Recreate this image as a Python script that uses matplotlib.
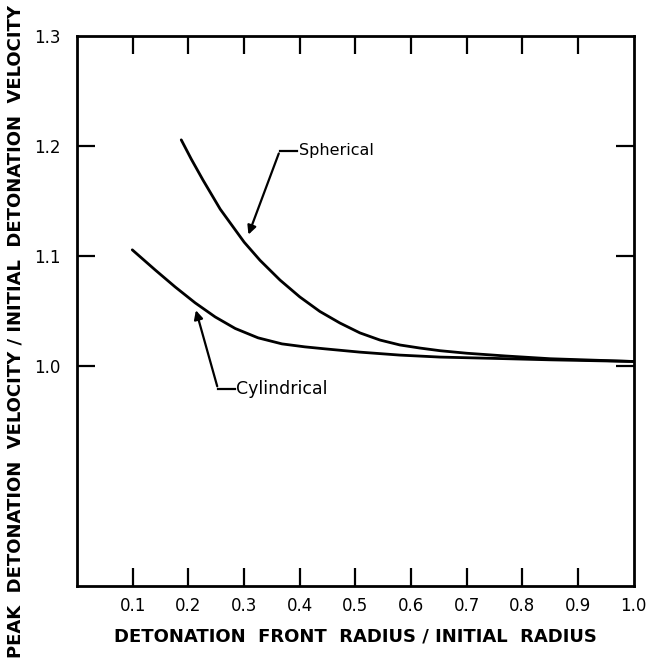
import matplotlib.pyplot as plt

# values
sph_x = [0.187, 0.205, 0.226, 0.257, 0.300, 0.3285, 0.3645, 0.400, 0.436, 0.472,
         0.508, 0.544, 0.580, 0.616, 0.652, 0.70, 0.77, 0.85, 1.0]
sph_y = [1.2055, 1.188, 1.169, 1.1425, 1.1125, 1.096, 1.078, 1.0627, 1.0495, 1.039,
         1.030, 1.0235, 1.019, 1.0162, 1.0138, 1.0115, 1.009, 1.0065, 1.004]

cyl_x = [0.099, 0.140, 0.176, 0.212, 0.248, 0.284, 0.325, 0.368, 0.409, 0.445,
         0.508, 0.580, 0.652, 0.75, 0.85, 1.0]
cyl_y = [1.1055, 1.0873, 1.0718, 1.0573, 1.0445, 1.034, 1.0255, 1.020, 1.0173, 1.0155,
         1.0125, 1.0098, 1.008, 1.0068, 1.0055, 1.004]

x_ticks = [0.1, 0.2, 0.3, 0.4, 0.5, 0.6, 0.7, 0.8, 0.9, 1.0]
x_labels = ["0.1", "0.2", "0.3", "0.4", "0.5", "0.6", "0.7", "0.8", "0.9", "1.0"]
y_ticks = [1.0, 1.1, 1.2, 1.3]
y_labels = ["1.0", "1.1", "1.2", "1.3"]


def main():
    fig = plt.figure(figsize=(6.54, 6.65), dpi=100)
    ax = fig.add_axes([0.118, 0.119, 0.851, 0.827])

    ax.plot(sph_x, sph_y, color="black", lw=2.0, solid_capstyle="round", solid_joinstyle="round")
    ax.plot(cyl_x, cyl_y, color="black", lw=2.0, solid_capstyle="round", solid_joinstyle="round")

    ax.set_xlim(0, 1.0)
    ax.set_ylim(0.8, 1.3)

    for s in ax.spines.values():
        s.set_linewidth(2.0)

    ax.set_xticks(x_ticks)
    ax.set_xticklabels(x_labels, fontsize=12)
    ax.set_yticks(y_ticks)
    ax.set_yticklabels(y_labels, fontsize=12)
    ax.tick_params(direction="in", length=13, width=1.6, top=True, right=True, pad=12)
    ax.tick_params(axis="x", pad=8)

    # hide the ticks that sit on the frame corners
    ax.xaxis.get_major_ticks()[-1].tick1line.set_visible(False)
    ax.xaxis.get_major_ticks()[-1].tick2line.set_visible(False)
    ax.yaxis.get_major_ticks()[-1].tick1line.set_visible(False)
    ax.yaxis.get_major_ticks()[-1].tick2line.set_visible(False)

    # leader lines and labels
    ax.annotate("", xy=(0.306, 1.117), xytext=(0.364, 1.1955),
                arrowprops=dict(arrowstyle="-|>", color="black", lw=1.6, mutation_scale=13))
    ax.plot([0.364, 0.395], [1.1955, 1.1955], color="black", lw=1.6)
    ax.text(0.398, 1.1955, "Spherical", fontsize=11.5, va="center", ha="left")

    ax.annotate("", xy=(0.212, 1.053), xytext=(0.253, 0.979),
                arrowprops=dict(arrowstyle="-|>", color="black", lw=1.6, mutation_scale=13))
    ax.plot([0.253, 0.283], [0.979, 0.979], color="black", lw=1.6)
    ax.text(0.286, 0.979, "Cylindrical", fontsize=12.5, va="center", ha="left")

    ax.set_xlabel("DETONATION  FRONT  RADIUS / INITIAL  RADIUS", fontsize=13, fontweight="bold", labelpad=9)
    fig.text(0.024, 0.502, "PEAK  DETONATION  VELOCITY / INITIAL  DETONATION  VELOCITY",
             rotation=90, fontsize=13, fontweight="bold", ha="center", va="center")

    fig.savefig("out.png", dpi=100)


if __name__ == "__main__":
    main()
